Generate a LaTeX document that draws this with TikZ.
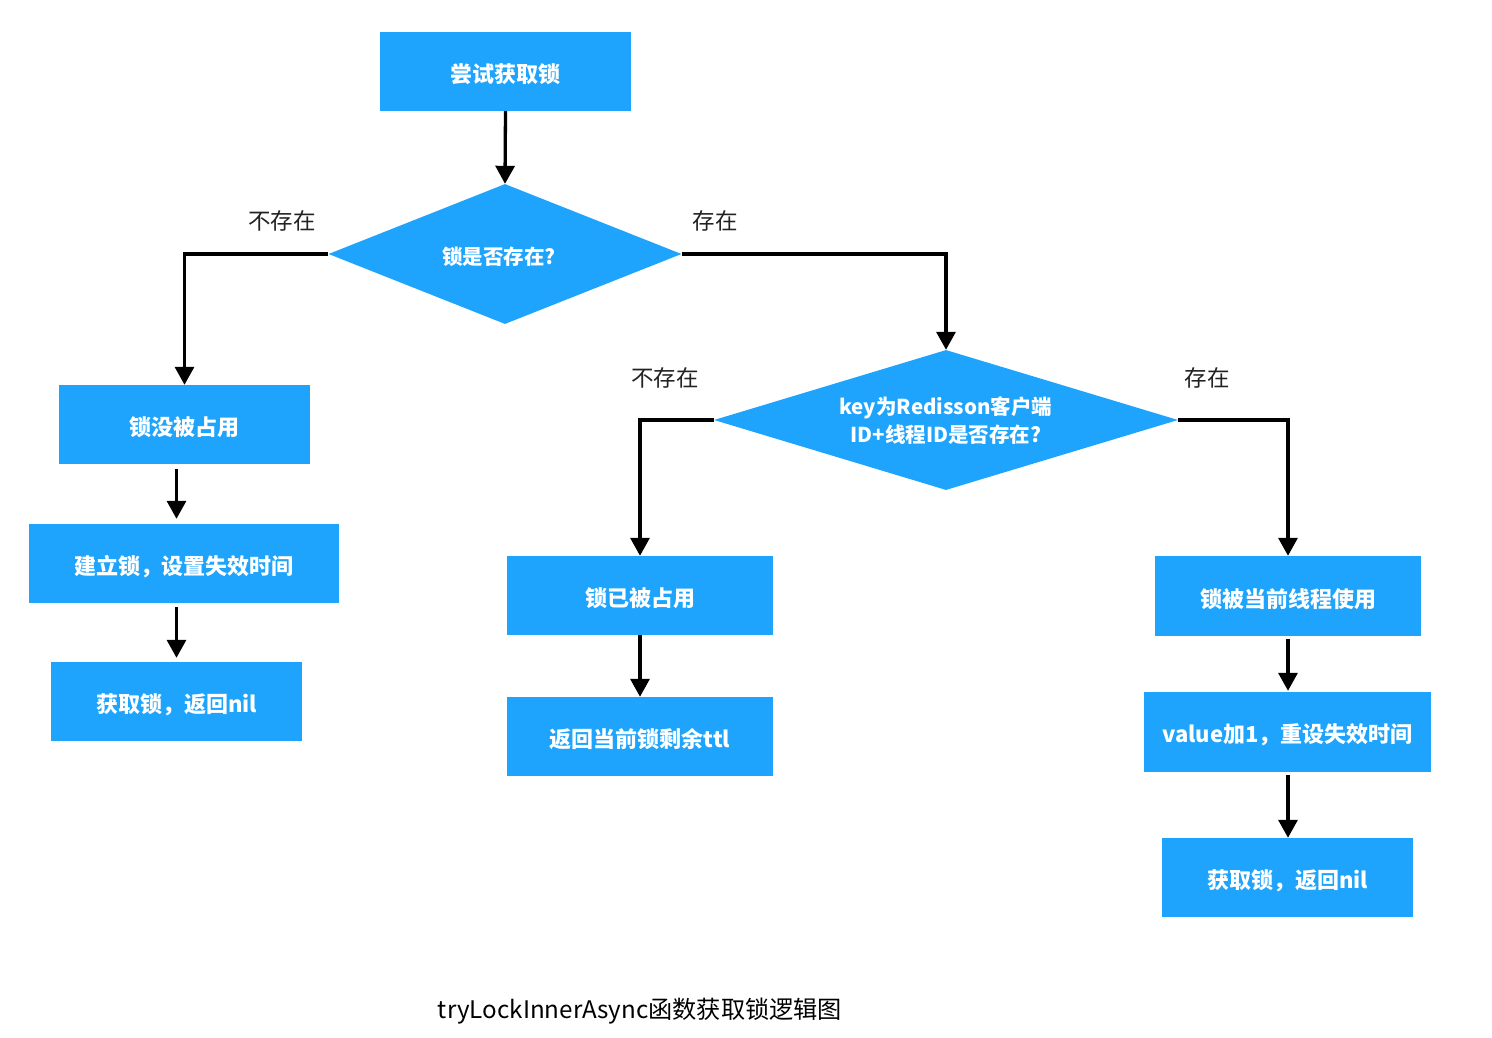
\documentclass[tikz,border=0pt]{standalone}
\usepackage{fontspec}
\setmainfont{Noto Sans CJK SC}
\usetikzlibrary{shapes.geometric,arrows.meta,calc}
\definecolor{boxblue}{HTML}{1EA4FC}
\definecolor{labgray}{HTML}{222222}
\newcommand\lowtext[1]{\raisebox{-3pt}[\height][\depth]{#1}}
\begin{document}
\begin{tikzpicture}[x=1pt,y=-1pt,
  procbox/.style={fill=boxblue,draw=none,inner sep=0pt,text=white,font=\fontsize{22}{27}\selectfont\bfseries},
  decbox/.style={shape=diamond,fill=boxblue,draw=none,inner sep=0pt,text=white,align=center,font=\fontsize{20.5}{28}\selectfont\bfseries},
  flow/.style={line width=3.3pt,-{Triangle[length=18pt,width=19pt]}},
  lab/.style={text=labgray,font=\fontsize{22.5}{27}\selectfont},
  captext/.style={text=black,font=\fontsize{24.2}{29}\selectfont}]
\useasboundingbox[fill=white] (0,0) rectangle (1492,1038);
% top
\node[procbox,minimum width=251pt,minimum height=79pt] (start) at (505.5,71.5) {\lowtext{尝试获取锁}};
\node[decbox,minimum width=353pt,minimum height=140pt,aspect=2.5] (d1) at (505,254) {\lowtext{\hspace*{-12pt}锁是否存在?}};
% left column
\node[procbox,minimum width=251pt,minimum height=79pt] (l1) at (184.5,424.5) {\lowtext{锁没被占用}};
\node[procbox,minimum width=310pt,minimum height=79pt] (l2) at (184,563.5) {\lowtext{建立锁，设置失效时间}};
\node[procbox,minimum width=251pt,minimum height=79pt] (l3) at (176.5,701.5) {\lowtext{获取锁，返回nil}};
% second decision
\node[decbox,minimum width=464pt,minimum height=140pt,aspect=3.3] (d2) at (946,420) {\lowtext{\begin{tabular}{@{}c@{}}key为Redisson客户端\\ID+线程ID是否存在?\end{tabular}}};
% middle column
\node[procbox,minimum width=266pt,minimum height=79pt] (m1) at (640,595.5) {\lowtext{锁已被占用}};
\node[procbox,minimum width=266pt,minimum height=79pt] (m2) at (640,736.5) {\lowtext{返回当前锁剩余ttl}};
% right column
\node[procbox,minimum width=266pt,minimum height=80pt] (r1) at (1288,596) {\lowtext{锁被当前线程使用}};
\node[procbox,minimum width=287pt,minimum height=80pt] (r2) at (1287.5,732) {\lowtext{value加1，重设失效时间}};
\node[procbox,minimum width=251pt,minimum height=79pt] (r3) at (1287.5,877.5) {\lowtext{获取锁，返回nil}};
% labels
\node[lab] (t1) at (282,220.5) {不存在};
\node[lab] (t2) at (715,220.5) {存在};
\node[lab] (t3) at (665,377.5) {不存在};
\node[lab] (t4) at (1207,377.5) {存在};
% caption
\node[captext] (caption) at (640,1011) {tryLockInnerAsync函数获取锁逻辑图};
% connectors
\draw[flow] (start.south) -- (d1.north);
\draw[flow] (d1.west) -| (l1.north);
\draw[flow] (d1.east) -| (d2.north);
\draw[flow,shorten <=5pt,shorten >=5pt] (l1.south -| l3.north) -- (l2.north -| l3.north);
\draw[flow,shorten <=4pt,shorten >=4pt] (l2.south -| l3.north) -- (l3.north);
\draw[flow] (d2.west) -| (m1.north);
\draw[flow] (d2.east) -| (r1.north);
\draw[flow] (m1.south) -- (m2.north);
\draw[flow,shorten <=3pt,shorten >=1pt] (r1.south) -- (r2.north -| r1.south);
\draw[flow,shorten <=3pt] (r2.south -| r1.south) -- (r3.north -| r1.south);
\end{tikzpicture}
\end{document}
